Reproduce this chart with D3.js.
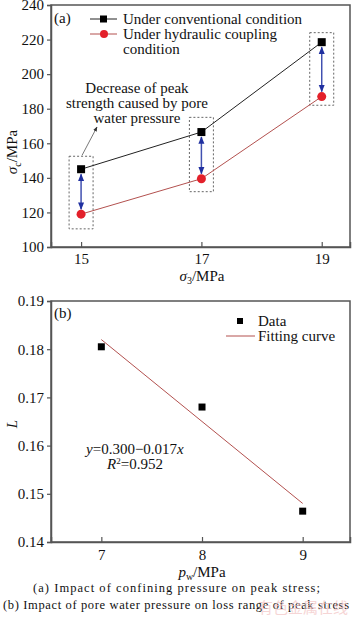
<!DOCTYPE html>
<html>
<head>
<meta charset="utf-8">
<script src="https://cdn.jsdelivr.net/npm/d3@7"></script>
<style>
  body { margin: 0; background: #fff; }
  svg text { font-family: "Liberation Serif", "Times New Roman", "DejaVu Serif", serif; fill: #111; }
</style>
</head>
<body>
<div id="chart"></div>
<script>
// panel (a): peak strength vs confining pressure
const confining = [15, 17, 19];
const conventional = [145, 166.5, 218.5];
const hydraulic = [119, 139.5, 187];
const boxTop = [152.5, 175, 224];
const boxBottom = [110.5, 132, 182];
const aYTicks = [100, 120, 140, 160, 180, 200, 220, 240];

// panel (b): loss range vs pore water pressure
const poreP = [7, 8, 9];
const lossL = [0.1805, 0.168, 0.1464];
const fitX = [7, 9];
const fitY = [0.182, 0.148];
const bYTicks = [0.14, 0.15, 0.16, 0.17, 0.18, 0.19];

const W = 352, H = 619;
const svg = d3.select("#chart").append("svg")
    .attr("width", W).attr("height", H);

svg.append("defs").append("marker")
    .attr("id", "arrBlue").attr("viewBox", "0 0 10 10")
    .attr("refX", 9).attr("refY", 5)
    .attr("markerWidth", 5).attr("markerHeight", 5)
    .attr("orient", "auto-start-reverse")
  .append("path").attr("d", "M0,1 L10,5 L0,9 z").attr("fill", "#2030a0");

svg.select("defs").append("marker")
    .attr("id", "arrGray").attr("viewBox", "0 0 10 10")
    .attr("refX", 9).attr("refY", 5)
    .attr("markerWidth", 6).attr("markerHeight", 6)
    .attr("orient", "auto")
  .append("path").attr("d", "M0,1 L10,5 L0,9 z").attr("fill", "#333");

const left = 51, right = 350;
const axisCol = "#555";
const redLine = "#b3514f", redDot = "#e3202a";
const fs = "15px";

function styleAxis(a) {
  a.attr("font-family", null).attr("font-size", null);
  a.select(".domain").attr("stroke", axisCol).attr("stroke-width", 1.5);
  a.selectAll(".tick line").attr("stroke", axisCol).attr("stroke-width", 1.2);
  a.selectAll("text").style("font-size", fs).attr("fill", "#111");
}

// ---------- panel (a)
const xa = d3.scaleLinear().domain([14.5, 19.47]).range([left, right]);
const ya = d3.scaleLinear().domain([100, 240]).range([247, 5]);

const ga = svg.append("g");
ga.append("rect").attr("x", left).attr("y", 5)
    .attr("width", right - left).attr("height", 242)
    .attr("fill", "none").attr("stroke", axisCol).attr("stroke-width", 1.5);

const axA = ga.append("g").attr("transform", `translate(${left},0)`)
    .call(d3.axisLeft(ya).tickValues(aYTicks).tickSize(4).tickPadding(3));
const axAx = ga.append("g").attr("transform", "translate(0,247)")
    .call(d3.axisBottom(xa).tickValues(confining).tickFormat(d3.format("d")).tickSize(-5).tickPadding(6));
styleAxis(axA);
styleAxis(axAx);
axAx.selectAll("text").attr("dy", "0.71em");

// dashed boxes
ga.selectAll(".box").data(confining).join("rect")
    .attr("x", d => xa(d) - 12).attr("width", 24)
    .attr("y", (d, i) => ya(boxTop[i]))
    .attr("height", (d, i) => ya(boxBottom[i]) - ya(boxTop[i]))
    .attr("fill", "none").attr("stroke", "#666")
    .attr("stroke-width", 1).attr("stroke-dasharray", "2,2");

// lines
const lineA = d3.line().x((d, i) => xa(confining[i])).y(d => ya(d));
ga.append("path").attr("d", lineA(conventional))
    .attr("fill", "none").attr("stroke", "#222").attr("stroke-width", 1);
ga.append("path").attr("d", lineA(hydraulic))
    .attr("fill", "none").attr("stroke", redLine).attr("stroke-width", 1);

// double arrows
ga.selectAll(".darr").data(confining).join("line")
    .attr("x1", d => xa(d)).attr("x2", d => xa(d))
    .attr("y1", (d, i) => ya(conventional[i]) + 5)
    .attr("y2", (d, i) => ya(hydraulic[i]) - 5)
    .attr("stroke", "#4050b0").attr("stroke-width", 1.5)
    .attr("marker-start", "url(#arrBlue)").attr("marker-end", "url(#arrBlue)");

// markers
ga.selectAll(".sq").data(conventional).join("rect")
    .attr("x", (d, i) => xa(confining[i]) - 4).attr("y", d => ya(d) - 4)
    .attr("width", 8).attr("height", 8).attr("fill", "#000");
ga.selectAll(".dot").data(hydraulic).join("circle")
    .attr("cx", (d, i) => xa(confining[i])).attr("cy", d => ya(d))
    .attr("r", 4.5).attr("fill", redDot);

// annotation
ga.append("line").attr("x1", xa(15) + 1).attr("y1", ya(152.5) - 1)
    .attr("x2", 97).attr("y2", 127)
    .attr("stroke", "#555").attr("stroke-width", 0.8)
    .attr("marker-end", "url(#arrGray)");
const note = ga.append("text").attr("text-anchor", "middle").style("font-size", fs);
["Decrease of peak", "strength caused by pore", "water pressure"].forEach((t, i) =>
  note.append("tspan").attr("x", 137).attr("y", 93 + i * 15).text(t));

// legend (a)
ga.append("text").attr("x", 54).attr("y", 23).style("font-size", fs).text("(a)");
const legA = [
  {y: 19, col: "#222", type: "sq", lines: ["Under conventional condition"]},
  {y: 34, col: redLine, type: "dot", lines: ["Under hydraulic coupling", "condition"]}
];
legA.forEach(l => {
  ga.append("line").attr("x1", 90).attr("x2", 117).attr("y1", l.y).attr("y2", l.y)
      .attr("stroke", l.col).attr("stroke-width", 1);
  if (l.type === "sq") {
    ga.append("rect").attr("x", 100).attr("y", l.y - 3.5).attr("width", 7).attr("height", 7).attr("fill", "#000");
  } else {
    ga.append("circle").attr("cx", 104).attr("cy", l.y).attr("r", 4).attr("fill", redDot);
  }
  l.lines.forEach((t, i) => ga.append("text").attr("x", 123).attr("y", l.y + 5 + i * 14.5)
      .style("font-size", fs).text(t));
});

// axis titles (a)
const ya_t = ga.append("text").attr("transform", "translate(17,152) rotate(-90)")
    .attr("text-anchor", "middle").style("font-size", fs);
ya_t.append("tspan").style("font-style", "italic").text("σ");
ya_t.append("tspan").attr("dy", 4).style("font-size", "10px").text("c");
ya_t.append("tspan").attr("dy", -4).text("/MPa");
const xa_t = ga.append("text").attr("x", 202).attr("y", 281)
    .attr("text-anchor", "middle").style("font-size", fs);
xa_t.append("tspan").style("font-style", "italic").text("σ");
xa_t.append("tspan").attr("dy", 3).style("font-size", "10px").text("3");
xa_t.append("tspan").attr("dy", -3).text("/MPa");

// ---------- panel (b)
const xb = d3.scaleLinear().domain([6.5, 9.47]).range([left, right]);
const yb = d3.scaleLinear().domain([0.14, 0.19]).range([542, 301]);

const gb = svg.append("g");
gb.append("rect").attr("x", left).attr("y", 301)
    .attr("width", right - left).attr("height", 241)
    .attr("fill", "none").attr("stroke", axisCol).attr("stroke-width", 1.5);

const axB = gb.append("g").attr("transform", `translate(${left},0)`)
    .call(d3.axisLeft(yb).tickValues(bYTicks).tickFormat(d3.format(".2f")).tickSize(4).tickPadding(3));
const axBx = gb.append("g").attr("transform", "translate(0,542)")
    .call(d3.axisBottom(xb).tickValues(poreP).tickFormat(d3.format("d")).tickSize(-5).tickPadding(7));
styleAxis(axB);
styleAxis(axBx);
axBx.selectAll("text").attr("dy", "0.71em");

gb.append("path")
    .attr("d", d3.line().x((d, i) => xb(fitX[i])).y(d => yb(d))(fitY))
    .attr("fill", "none").attr("stroke", redLine).attr("stroke-width", 1);
gb.selectAll(".pt").data(lossL).join("rect")
    .attr("x", (d, i) => xb(poreP[i]) - 3.5).attr("y", d => yb(d) - 3.5)
    .attr("width", 7).attr("height", 7).attr("fill", "#000");

gb.append("text").attr("x", 54).attr("y", 318).style("font-size", fs).text("(b)");

// legend (b)
gb.append("rect").attr("x", 237).attr("y", 318).attr("width", 6).attr("height", 6).attr("fill", "#000");
gb.append("text").attr("x", 258).attr("y", 326).style("font-size", fs).text("Data");
gb.append("line").attr("x1", 226).attr("x2", 255).attr("y1", 336).attr("y2", 336)
    .attr("stroke", redLine).attr("stroke-width", 1);
gb.append("text").attr("x", 258).attr("y", 341).style("font-size", fs).text("Fitting curve");

// equation
const eq = gb.append("text").attr("x", 86).attr("y", 454).style("font-size", fs);
eq.append("tspan").style("font-style", "italic").text("y");
eq.append("tspan").text("=0.300−0.017");
eq.append("tspan").style("font-style", "italic").text("x");
const r2 = gb.append("text").attr("x", 107).attr("y", 469).style("font-size", fs);
r2.append("tspan").style("font-style", "italic").text("R");
r2.append("tspan").attr("dy", -5).style("font-size", "9px").text("2");
r2.append("tspan").attr("dy", 5).text("=0.952");

// axis titles (b)
gb.append("text").attr("transform", "translate(17,424) rotate(-90)")
    .attr("text-anchor", "middle").style("font-size", fs).style("font-style", "italic").text("L");
const xb_t = gb.append("text").attr("x", 202).attr("y", 577)
    .attr("text-anchor", "middle").style("font-size", fs);
xb_t.append("tspan").style("font-style", "italic").text("p");
xb_t.append("tspan").attr("dy", 3).style("font-size", "10px").text("w");
xb_t.append("tspan").attr("dy", -3).text("/MPa");

// captions
svg.append("text").attr("x", 33).attr("y", 592)
    .attr("textLength", 287).attr("lengthAdjust", "spacing")
    .style("font-size", "12.5px")
    .text("(a) Impact of confining pressure on peak stress;");
svg.append("text").attr("x", 3).attr("y", 609)
    .attr("textLength", 346).attr("lengthAdjust", "spacing")
    .style("font-size", "12.5px")
    .text("(b) Impact of pore water pressure on loss range of peak stress");
svg.append("text").attr("x", 348).attr("y", 613).attr("text-anchor", "end")
    .style("font-size", "15px").style("font-family", "Noto Sans CJK SC")
    .style("fill", "#f3c4c4").style("opacity", 0.7).text("有色金属在线");
</script>
</body>
</html>
